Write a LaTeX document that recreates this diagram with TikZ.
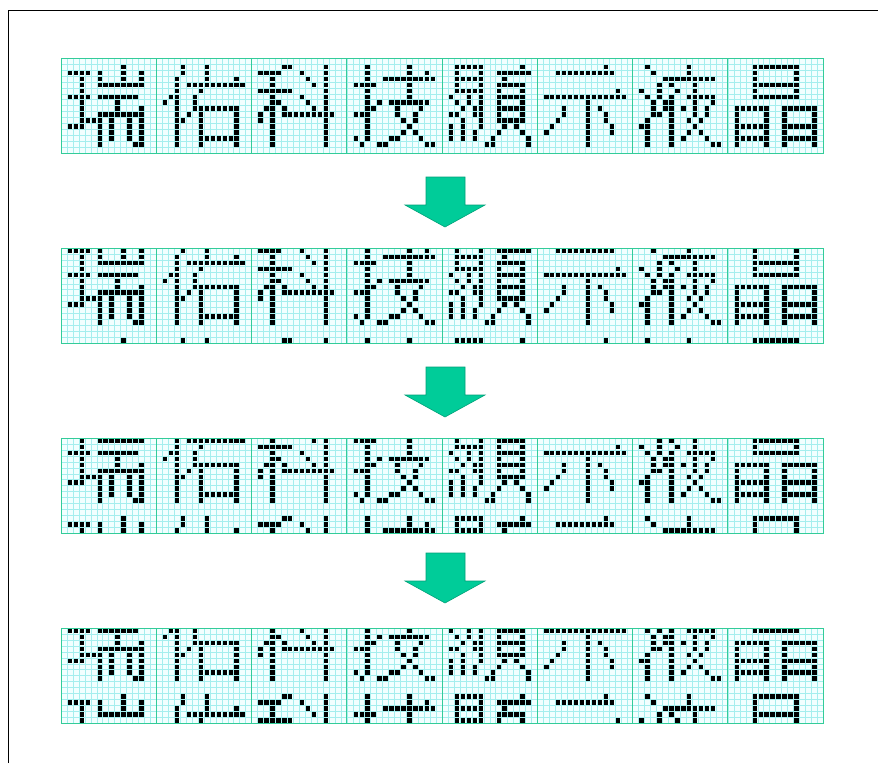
\documentclass[tikz,border=0pt]{standalone}
\usepackage{tikz}
\definecolor{gridcyan}{RGB}{165,238,238}
\definecolor{cellback}{RGB}{242,255,255}
\definecolor{cellteal}{RGB}{51,204,153}
\definecolor{arrowgreen}{RGB}{0,204,153}
\definecolor{arrowedge}{RGB}{0,160,120}

%% dot pitch of the LCD matrix (px)
\newcommand\pitch{5.955}

%% one row of a glyph: x = dot, - = off
\newcount\dotcol
\def\dotrow#1{%
  \ifx#1\relax\else
    \ifx#1x\fill[pixel] (\dx+\the\dotcol*\pitch+0.78, \dy+0.78) rectangle ++(4.4,4.4);\fi
    \advance\dotcol by 1
    \expandafter\dotrow
  \fi}

%% glyph #1 at left x #2, top y #3, scrolled up by #4 dot rows
\newcommand\drawglyph[4]{%
  \expandafter\let\expandafter\curglyph\csname glyph#1\endcsname
  \pgfmathsetmacro\dx{#2}%
  \foreach \rowstr [count=\ri from 0] in \curglyph {%
    \pgfmathtruncatemacro\drow{mod(\ri-#4+16,16)}%
    \pgfmathsetmacro\dy{#3+\drow*\pitch}%
    \dotcol=0
    \expandafter\dotrow\rowstr\relax
  }}

%% 16x16 bitmaps
\def\glyphRui{%
----------------,
----------x-----,
-xxxx-x---x--x--,
---x--x---x--x--,
---x--xxxxxxxx--,
---x------------,
-xxxx-xxxxxxx---,
---x-----x------,
---x-----x---x--,
---x--xxxxxxxx--,
---xxxx-x--x-x--,
-xxx--x-x--x-x--,
------x-x--x-x--,
------x-x--x-x--,
------x-----xx--,
----------------}
\def\glyphYou{%
----------------,
----x---x-------,
----x---x-------,
---x----x----x--,
---x-xxxxxxxxxx-,
---x---x--------,
--xx--x---------,
-x-x--x---------,
---x--xxxxxxxx--,
---x-x-x-----x--,
---xx--x-----x--,
---x---x-----x--,
---x---x-----x--,
---x---xxxxxxx--,
---x---x-----x--,
----------------}
\def\glyphKe{%
----------------,
-----xx-----x---,
-xxxx---x---x---,
---x-----x--x---,
---x------x-x---,
-xxxxxx-----x---,
---x----x---x---,
---xx----x--x---,
--xx-x----x-x---,
-x-x-xxxxxxxxx--,
-x-x--------x---,
---x--------x---,
---x--------x---,
---x--------x---,
---x--------x---,
----------------}
\def\glyphJi{%
----------------,
---x------x-----,
---x------x--x--,
---x--xxxxxxxxx-,
-xxxx-----x-----,
---x------x-----,
---x------x-----,
---x-x-xxxxxxx--,
---xx---x---x---,
-xxx----x--x----,
---x-----x-x----,
---x------x-----,
---x-----x-x----,
-x-x---xx---x---,
--x--xx------xx-,
----------------}
\def\glyphXian{%
----------------,
--xxxxx------x--,
--x---x--xxxxxx-,
--xxxxx---x-----,
--x---x--xxxxx--,
--xxxxx--x---x--,
-x--x-x--xxxxx--,
--x-x-x--x---x--,
---x-xx--xxxxx--,
-xx--xx--x---x--,
---x--x--xxxxx--,
-x-x--x---x-x---,
-x-x-x---x---x--,
-x-x-x--x-----x-,
-------xx-----x-,
----------------}
\def\glyphShi{%
----------------,
-----------x----,
---xxxxxxxxxx---,
----------------,
----------------,
-------------x--,
-xxxxxxxxxxxxxx-,
--------x-------,
----x---x-x-----,
----x---x--x----,
---x----x--x----,
--x-----x---x---,
-x------x---x---,
--------x-------,
--------x-------,
----------------}
\def\glyphYe{%
----------------,
--x------x------,
---x-----x------,
-----xxxxxxxxx--,
----x-x---x-----,
-x--x--x--x-----,
--x-x-x--xxxxx--,
---x-xx---x--x--,
---x-xx-x-x-x---,
---xx-x---x-x---,
--x---x--x-x----,
-xx---x---x-----,
--x---x--x-x----,
--x---x-x---x---,
--x---x------xx-,
----------------}
\def\glyphJing{%
----------------,
----xxxxxxxx----,
----x------x----,
----x------x----,
----xxxxxxxx----,
----x------x----,
----xxxxxxxx----,
----------------,
-xxxxxx--xxxxxx-,
-x----x--x----x-,
-x----x--x----x-,
-xxxxxx--xxxxxx-,
-x----x--x----x-,
-xxxxxx--xxxxxx-,
-x----x--x----x-,
----------------}

\begin{document}
\begin{tikzpicture}[
  x=1pt, y=-1pt,
  pageframe/.style={draw=black, line width=0.8pt},
  gridline/.style={draw=gridcyan, line width=0.45pt},
  cellline/.style={draw=cellteal, line width=1pt},
  pixel/.style={fill=black},
  blockarrow/.style={fill=arrowgreen, draw=arrowedge, line width=0.6pt},
]
\useasboundingbox (0,0) rectangle (878,763);

%% page frame
\draw[pageframe] (8,763) -- (8,10) -- (878,10);

%% four snapshots of the scrolling display
\foreach \band/\shift in {58/0, 248/2, 438/4, 628/6} {
  \fill[cellback] (61,\band) rectangle ++(128*\pitch,16*\pitch);
  \foreach \i in {1,...,127}
    \draw[gridline] (61+\i*\pitch,\band) -- ++(0,16*\pitch);
  \foreach \j in {1,...,15}
    \draw[gridline] (61,\band+\j*\pitch) -- ++(128*\pitch,0);
  \foreach \g [count=\k from 0] in {Rui,You,Ke,Ji,Xian,Shi,Ye,Jing}
    \drawglyph{\g}{61+\k*16*\pitch}{\band}{\shift};
  \foreach \k in {1,...,7}
    \draw[cellline] (61+\k*16*\pitch,\band) -- ++(0,16*\pitch);
  \draw[cellline] (61,\band) rectangle ++(128*\pitch,16*\pitch);
}

%% scroll arrows
\foreach \ay in {177,367,553}
  \filldraw[blockarrow] (426,\ay) -- (465,\ay) -- (465,\ay+28) -- (485,\ay+28)
    -- (445,\ay+50) -- (405,\ay+28) -- (426,\ay+28) -- cycle;

\end{tikzpicture}
\end{document}
